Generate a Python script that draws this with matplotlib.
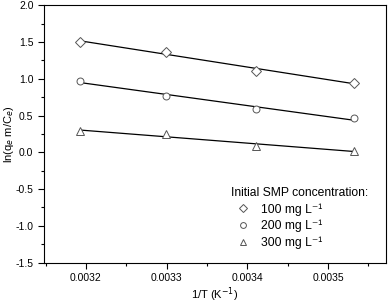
import numpy as np
import matplotlib
matplotlib.use("Agg")
import matplotlib.pyplot as plt
from matplotlib.ticker import MultipleLocator

plt.rcParams['font.family'] = ['Liberation Sans', 'DejaVu Sans']

inv_T = [0.003193, 0.003299, 0.003411, 0.003532]
series_labels = ['100 mg L\u207b\u00b9', '200 mg L\u207b\u00b9', '300 mg L\u207b\u00b9']
markers = ['D', 'o', '^']
y100 = [1.50, 1.37, 1.11, 0.94]
y200 = [0.97, 0.77, 0.59, 0.46]
y300 = [0.29, 0.245, 0.085, 0.02]
series = [y100, y200, y300]

fig = plt.figure(figsize=(3.92, 3.04), dpi=100)
ax = fig.add_axes([0.112, 0.136, 0.873, 0.847])

x = np.array(inv_T)
handles = []
for ys, m, lab in zip(series, markers, series_labels):
    ys = np.array(ys)
    k, b = np.polyfit(x, ys, 1)
    ax.plot(x, k * x + b, color='black', lw=0.9, zorder=2)
    ms = 5.0 if m != '^' else 5.2
    ax.plot(x, ys, linestyle='none', marker=m, ms=ms, mfc='white',
            mec='#555555', mew=0.7, zorder=3)
    hl = ax.plot([], [], linestyle='none', marker=m, ms=ms - 0.8, mfc='white',
                 mec='#555555', mew=0.7, label=lab)[0]
    handles.append(hl)

ax.set_xlim(0.003148, 0.003572)
ax.set_ylim(-1.5, 2.0)
ax.xaxis.set_major_locator(MultipleLocator(0.0001))
ax.xaxis.set_minor_locator(MultipleLocator(0.00005))
ax.yaxis.set_major_locator(MultipleLocator(0.5))
ax.yaxis.set_minor_locator(MultipleLocator(0.25))
ax.xaxis.set_major_formatter(matplotlib.ticker.FuncFormatter(lambda v, p: f"{v:.4f}"))
ax.yaxis.set_major_formatter(matplotlib.ticker.FuncFormatter(lambda v, p: f"{v:.1f}"))
ax.tick_params(axis='both', which='both', direction='out', labelsize=7.5,
               top=False, right=False, width=0.8)
ax.tick_params(which='major', length=4)
ax.tick_params(which='minor', length=2.5)
for s in ax.spines.values():
    s.set_linewidth(0.8)

ax.set_xlabel('1/T (K$^{-1}$)', fontsize=8, labelpad=1.5)
ax.set_ylabel('ln(q$_e$ m/C$_e$)', fontsize=8)
ax.yaxis.set_label_coords(-0.082, 0.5)

leg = ax.legend(handles=handles, title='Initial SMP concentration:',
                loc='upper left', bbox_to_anchor=(0.547, 0.294),
                frameon=False, fontsize=8.7, title_fontsize=8.7,
                handlelength=2.0, handletextpad=0.5, labelspacing=0.35,
                borderpad=0.0, borderaxespad=0.0)
leg._legend_box.align = 'left'

fig.savefig('out.png', dpi=100)
